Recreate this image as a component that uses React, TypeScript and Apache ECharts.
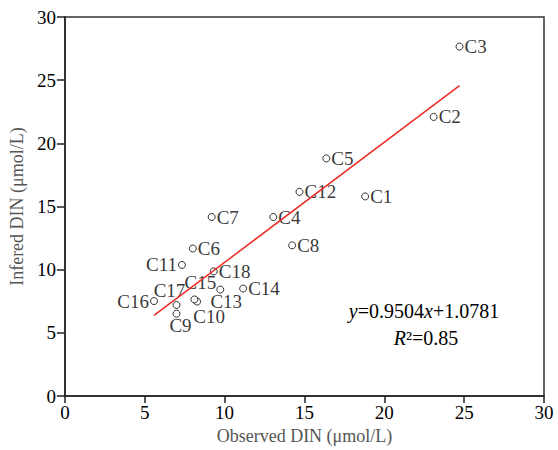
import React, { useEffect, useRef } from "react";
import * as echarts from "echarts";

const sites = ["C1","C2","C3","C4","C5","C6","C7","C8","C9","C10","C11","C12","C13","C14","C15","C16","C17","C18"];
const observed = [18.8, 23.09, 24.71, 13.05, 16.37, 8.01, 9.19, 14.23, 6.99, 8.28, 7.33, 14.69, 9.73, 11.16, 8.11, 5.58, 6.99, 9.32];
const inferred = [15.8, 22.09, 27.66, 14.17, 18.81, 11.68, 14.17, 11.93, 6.52, 7.48, 10.38, 16.16, 8.43, 8.51, 7.65, 7.52, 7.21, 9.87];
const slope = 0.9504;
const intercept = 1.0781;
const r2 = "0.85";
const axisTicks = [0, 5, 10, 15, 20, 25, 30];

// label placement (style only)
const labelPlacement: Record<string, { position: string; offset?: number[] }> = {
  C9: { position: "inside", offset: [4, 12] },
  C10: { position: "inside", offset: [12, 15] },
  C11: { position: "left" },
  C13: { position: "inside", offset: [6, 11.5] },
  C15: { position: "inside", offset: [6, -17] },
  C16: { position: "left" },
  C17: { position: "inside", offset: [-7, -14] },
};

const FONT = "'Liberation Serif', 'Times New Roman', serif";

export default function App() {
  const ref = useRef<HTMLDivElement>(null);
  useEffect(() => {
    if (!ref.current) return;
    const chart = echarts.init(ref.current, null, { renderer: "svg" });
    const xs = observed;
    const xmin = Math.min(...xs);
    const xmax = Math.max(...xs);
    const scatterData = sites.map((s, i) => {
      const p = labelPlacement[s];
      const item: any = { name: s, value: [observed[i], inferred[i]] };
      if (p) item.label = { position: p.position, offset: p.offset || [0, 0] };
      return item;
    });
    chart.setOption({
      animation: false,
      backgroundColor: "#fff",
      grid: { left: 62, right: 14, top: 17, bottom: 46, show: true, borderColor: "#333", borderWidth: 1.5 },
      xAxis: {
        type: "value", min: axisTicks[0], max: axisTicks[axisTicks.length - 1], interval: 5,
        axisLine: { show: true, lineStyle: { color: "#222", width: 1.5 } },
        axisTick: { show: true, inside: false, length: 7, lineStyle: { color: "#222", width: 1.5 } },
        splitLine: { show: false },
        axisLabel: { fontSize: 19, fontFamily: FONT, color: "#000", margin: 7 },
        name: "Observed DIN (μmol/L)", nameLocation: "middle", nameGap: 23,
        nameTextStyle: { fontSize: 18, fontFamily: FONT, color: "#555" },
      },
      yAxis: {
        type: "value", min: axisTicks[0], max: axisTicks[axisTicks.length - 1], interval: 5,
        axisLine: { show: true, lineStyle: { color: "#222", width: 1.5 } },
        axisTick: { show: true, inside: false, length: 8, lineStyle: { color: "#222", width: 1.5 } },
        splitLine: { show: false },
        axisLabel: { fontSize: 19, fontFamily: FONT, color: "#000", margin: 9 },
        name: "Infered DIN (μmol/L)", nameLocation: "middle", nameGap: 37, nameRotate: 90,
        nameTextStyle: { fontSize: 18, fontFamily: FONT, color: "#555" },
      },
      series: [
        {
          type: "scatter",
          data: scatterData,
          symbol: "circle",
          symbolSize: 7,
          itemStyle: { color: "#fff", borderColor: "#000", borderWidth: 1 },
          label: {
            show: true, position: "right", distance: 1,
            formatter: (p: any) => p.name,
            fontSize: 19, fontFamily: FONT, color: "#000",
          },
          z: 2,
        },
        {
          type: "line",
          data: [[xmin, slope * xmin + intercept], [xmax, slope * xmax + intercept]],
          showSymbol: false,
          lineStyle: { color: "#ee2a24", width: 1.5 },
          z: 3,
          silent: true,
        },
      ],
      graphic: [
        {
          type: "text", x: 424, y: 311,
          style: {
            text: "{i|y}=" + slope + "{i|x}+" + intercept,
            align: "center", verticalAlign: "middle",
            font: "20px " + FONT, fill: "#000",
            rich: { i: { fontStyle: "italic", fontSize: 20, fontFamily: FONT } },
          },
        },
        {
          type: "text", x: 426, y: 338,
          style: {
            text: "{i|R}²=" + r2,
            align: "center", verticalAlign: "middle",
            font: "20px " + FONT, fill: "#000",
            rich: { i: { fontStyle: "italic", fontSize: 20, fontFamily: FONT } },
          },
        },
      ],
    });
    return () => chart.dispose();
  }, []);
  return <div ref={ref} style={{ width: 558, height: 450, position: "absolute", left: 0, top: 0 }} />;
}
